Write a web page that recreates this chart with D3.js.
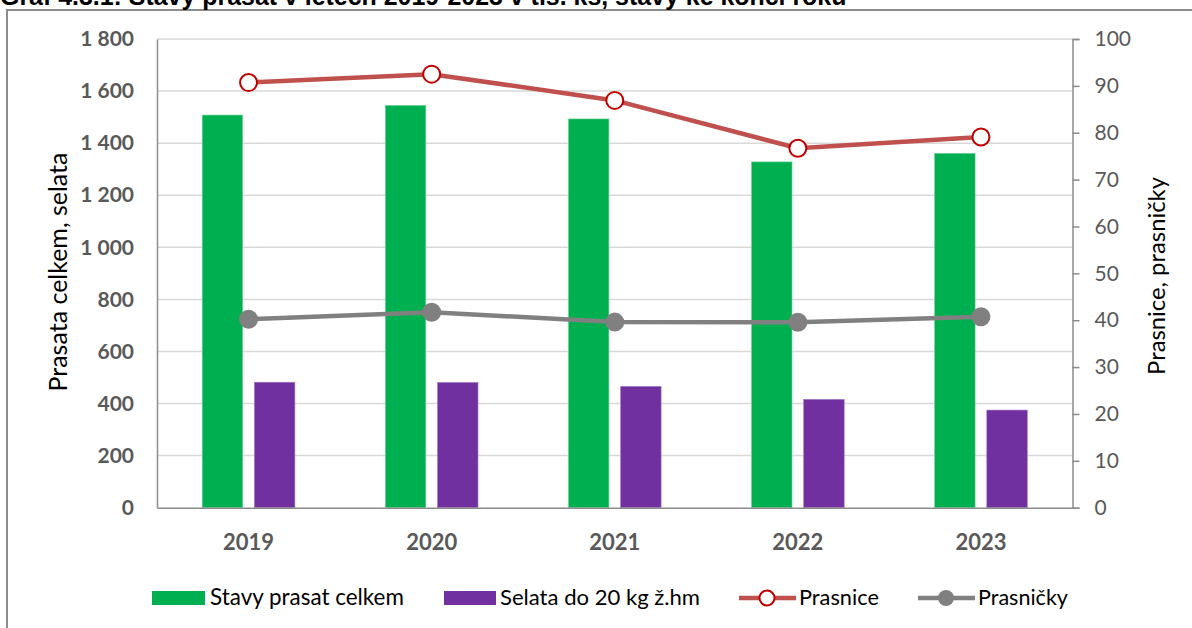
<!DOCTYPE html>
<html><head><meta charset="utf-8">
<script src="https://cdn.jsdelivr.net/npm/d3@7"></script>
<style>
html,body{margin:0;padding:0;background:#fff;}
svg{display:block;}
</style></head>
<body>
<svg id="c" width="1192" height="628"></svg>
<script>
const years = ["2019","2020","2021","2022","2023"];
const pigsTotal = [1508, 1545, 1493, 1328, 1361];
const piglets = [482, 481, 466, 416, 375];
const sows = [90.7, 92.5, 86.9, 76.7, 79.1];
const gilts = [40.2, 41.7, 39.6, 39.55, 40.75];
const leftTicks = [0,200,400,600,800,1000,1200,1400,1600,1800];
const rightTicks = [0,10,20,30,40,50,60,70,80,90,100];
const seriesNames = ["Stavy prasat celkem","Selata do 20 kg ž.hm","Prasnice","Prasničky"];
const titleText = "Graf 4.3.1: Stavy prasat v letech 2019-2023 v tis. ks, stavy ke konci roku";
const leftTitle = "Prasata celkem, selata";
const rightTitle = "Prasnice, prasničky";

const svg = d3.select("#c");
const L = 157, R = 1072.5, T = 39, B = 507.7;
const font = "Lato, 'Open Sans', sans-serif";

function fit(sel, base, target) {
  const w = sel.node().getComputedTextLength();
  sel.attr("font-size", base * target / w);
}

// frame
svg.append("path").attr("d", "M7,630 L7,10 L1200,10").attr("fill","none")
  .attr("stroke","#8c8c8c").attr("stroke-width",2);

// title
const tt = svg.append("text").attr("x",0).attr("y",5)
  .attr("font-family","'Liberation Sans', Arial, sans-serif").attr("font-weight","bold")
  .attr("font-size",20).attr("fill","#000").text(titleText);
fit(tt, 20, 847);

const x = d3.scaleBand().domain(years).range([L,R]).paddingInner(0).paddingOuter(0);
const xs = d3.scaleBand().domain(["a","b"]).range([0,x.bandwidth()]).paddingInner(0.224).paddingOuter(0.866);
const y = d3.scaleLinear().domain([0,1800]).range([B,T]);
const yR = d3.scaleLinear().domain([0,100]).range([B,T]);
const fmt = d3.formatLocale({decimal:",", thousands:" ", grouping:[3], currency:["",""]}).format(",d");

// gridlines
svg.append("g").selectAll("line").data(leftTicks.filter(d=>d>0)).join("line")
  .attr("x1",L).attr("x2",R).attr("y1",d=>y(d)).attr("y2",d=>y(d))
  .attr("stroke","#d9d9d9").attr("stroke-width",1.5);

// bars
svg.append("g").selectAll("rect").data(years).join("rect")
  .attr("x",d=>x(d)+xs("a")).attr("width",xs.bandwidth())
  .attr("y",(d,i)=>y(pigsTotal[i])).attr("height",(d,i)=>B-y(pigsTotal[i]))
  .attr("fill","#00b050").attr("stroke","#6fd49a").attr("stroke-width",0.6);
svg.append("g").selectAll("rect").data(years).join("rect")
  .attr("x",d=>x(d)+xs("b")).attr("width",xs.bandwidth())
  .attr("y",(d,i)=>y(piglets[i])).attr("height",(d,i)=>B-y(piglets[i]))
  .attr("fill","#7030a0").attr("stroke","#a27cc4").attr("stroke-width",0.6);

// left axis
const ga = svg.append("g").attr("transform",`translate(${L},0)`)
  .call(d3.axisLeft(y).tickValues(leftTicks).tickFormat(fmt).tickSize(0).tickPadding(23));
ga.select(".domain").attr("stroke","#8c8c8c").attr("stroke-width",1.5);
ga.selectAll("text").attr("font-family",font).attr("font-weight","bold").attr("font-size",21).attr("fill","#595959");

// right axis
const gr = svg.append("g").attr("transform",`translate(${R},0)`)
  .call(d3.axisRight(yR).tickValues(rightTicks).tickSize(7).tickPadding(15));
gr.select(".domain").attr("stroke","#8c8c8c").attr("stroke-width",1.5);
gr.selectAll("line").attr("stroke","#8c8c8c").attr("stroke-width",1.5);
gr.selectAll("text").attr("font-family",font).attr("font-size",21).attr("fill","#595959");

// x axis
const gx = svg.append("g").attr("transform",`translate(0,${B})`)
  .call(d3.axisBottom(x).tickSize(0).tickPadding(27));
gx.select(".domain").attr("stroke","#8c8c8c").attr("stroke-width",1.5);
gx.selectAll("text").attr("font-family",font).attr("font-weight","bold").attr("font-size",22).attr("fill","#595959");

// axis titles
const lt = svg.append("text").attr("transform",`translate(67,272) rotate(-90)`).attr("text-anchor","middle")
  .attr("font-family",font).attr("font-size",20).attr("fill","#000").text(leftTitle);
fit(lt, 20, 239);
const rt = svg.append("text").attr("transform",`translate(1165,276) rotate(-90)`).attr("text-anchor","middle")
  .attr("font-family",font).attr("font-size",20).attr("fill","#000").text(rightTitle);
fit(rt, 20, 198);

// lines
const cx = d => x(d)+x.bandwidth()/2;
const lineS = d3.line().x((d,i)=>cx(years[i])).y(d=>yR(d));
svg.append("path").datum(gilts).attr("d",lineS).attr("fill","none").attr("stroke","#808080").attr("stroke-width",4.5);
svg.append("g").selectAll("circle").data(gilts).join("circle")
  .attr("cx",(d,i)=>cx(years[i])).attr("cy",d=>yR(d)).attr("r",9.5).attr("fill","#808080");
svg.append("path").datum(sows).attr("d",lineS).attr("fill","none").attr("stroke","#c0504d").attr("stroke-width",4.5);
svg.append("g").selectAll("circle").data(sows).join("circle")
  .attr("cx",(d,i)=>cx(years[i])).attr("cy",d=>yR(d)).attr("r",8.5).attr("fill","#fff")
  .attr("stroke","#c00000").attr("stroke-width",2);

// legend
const ly = 598;
const lg = svg.append("g").attr("font-family",font).attr("fill","#000");
const legText = (xp, s, w) => { const t = lg.append("text").attr("x",xp).attr("y",ly+7).attr("font-size",20).text(s); fit(t,20,w); };
lg.append("rect").attr("x",152).attr("y",591).attr("width",53).attr("height",14).attr("fill","#00b050");
legText(210, seriesNames[0], 194);
lg.append("rect").attr("x",444).attr("y",591).attr("width",52).attr("height",14).attr("fill","#7030a0");
legText(500, seriesNames[1], 200);
lg.append("line").attr("x1",739).attr("x2",796).attr("y1",ly).attr("y2",ly).attr("stroke","#c0504d").attr("stroke-width",4.5);
lg.append("circle").attr("cx",767).attr("cy",ly).attr("r",7.5).attr("fill","#fff").attr("stroke","#c00000").attr("stroke-width",2);
legText(799, seriesNames[2], 80);
lg.append("line").attr("x1",918).attr("x2",975).attr("y1",ly).attr("y2",ly).attr("stroke","#808080").attr("stroke-width",4.5);
lg.append("circle").attr("cx",946).attr("cy",ly).attr("r",8).attr("fill","#808080");
legText(978, seriesNames[3], 90);
</script>
</body></html>
